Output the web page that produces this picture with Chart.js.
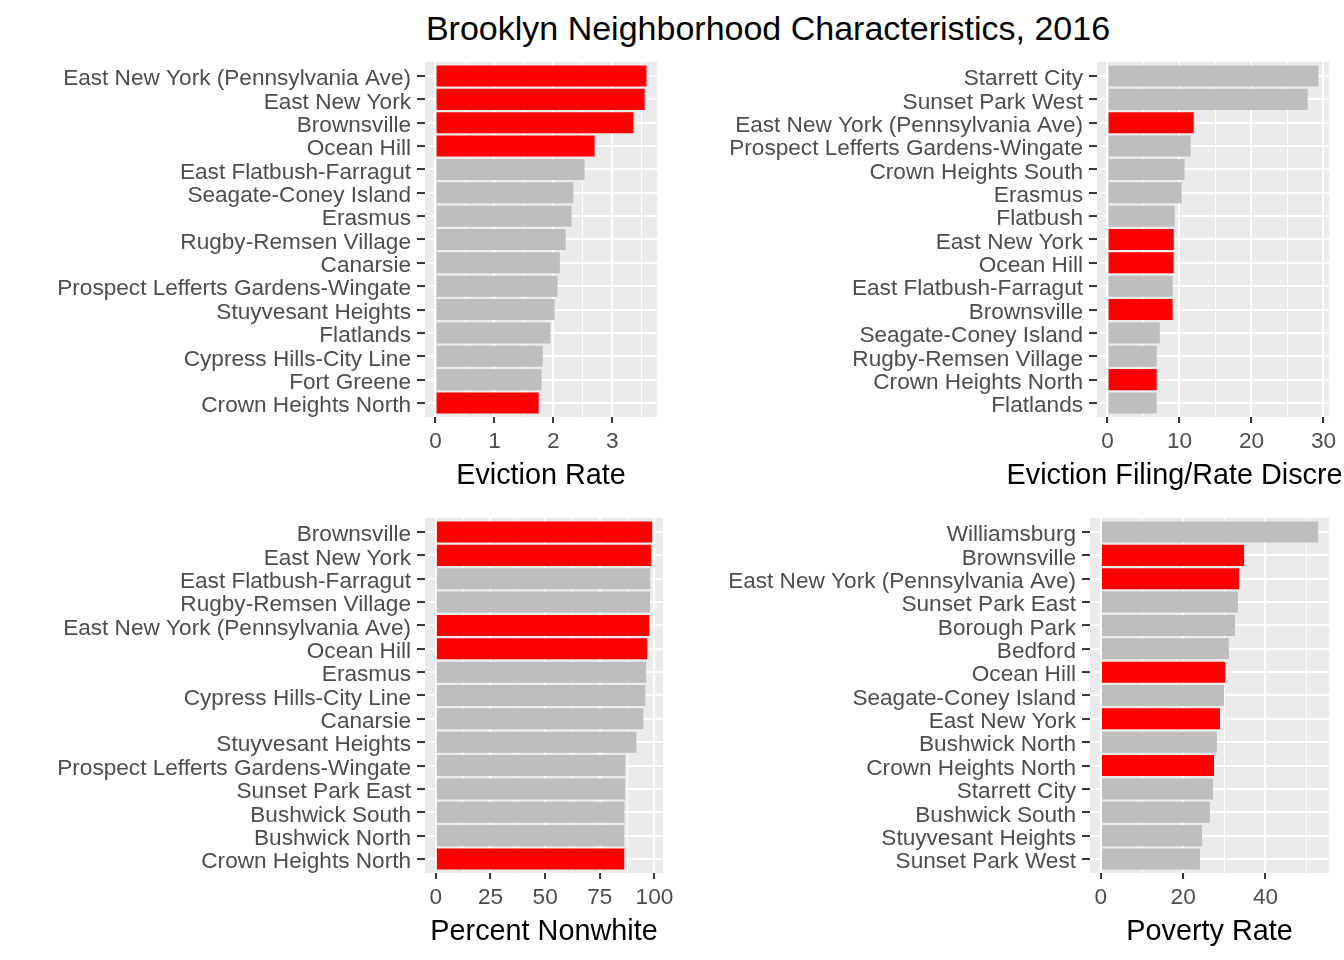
<!DOCTYPE html>
<html><head><meta charset="utf-8">
<script src="https://cdn.jsdelivr.net/npm/chart.js@4.4.0/dist/chart.umd.min.js"></script>
<style>
html,body{margin:0;padding:0;background:#fff;width:1344px;height:960px;overflow:hidden;position:relative;font-family:"Liberation Sans",Arial,sans-serif}
canvas{position:absolute}
#title{position:absolute;top:11px;left:768px;transform:translateX(-50%);font-size:34px;line-height:34px;white-space:nowrap;color:#000}
</style></head><body>
<div id="title">Brooklyn Neighborhood Characteristics, 2016</div>
<canvas id="c1" width="672" height="450" style="left:0;top:50px"></canvas>
<canvas id="c2" width="672" height="450" style="left:672px;top:50px"></canvas>
<canvas id="c3" width="700" height="450" style="left:0;top:506px"></canvas>
<canvas id="c4" width="672" height="450" style="left:672px;top:506px"></canvas>
<script>
// ---- data ----
const highlighted = ["East New York (Pennsylvania Ave)","East New York","Brownsville","Ocean Hill","Crown Heights North"];

const evictionNeighborhoods = ["East New York (Pennsylvania Ave)","East New York","Brownsville","Ocean Hill","East Flatbush-Farragut","Seagate-Coney Island","Erasmus","Rugby-Remsen Village","Canarsie","Prospect Lefferts Gardens-Wingate","Stuyvesant Heights","Flatlands","Cypress Hills-City Line","Fort Greene","Crown Heights North"];
const evictionRate = [3.58,3.55,3.36,2.70,2.53,2.34,2.31,2.21,2.11,2.07,2.02,1.95,1.82,1.80,1.75];
const evictionMajorTicks = [0,1,2,3];
const evictionMinorTicks = [0.5,1.5,2.5,3.5];

const discrepancyNeighborhoods = ["Starrett City","Sunset Park West","East New York (Pennsylvania Ave)","Prospect Lefferts Gardens-Wingate","Crown Heights South","Erasmus","Flatbush","East New York","Ocean Hill","East Flatbush-Farragut","Brownsville","Seagate-Coney Island","Rugby-Remsen Village","Crown Heights North","Flatlands"];
const discrepancy = [29.3,27.8,11.97,11.55,10.7,10.3,9.33,9.2,9.18,9.06,9.04,7.26,6.84,6.83,6.82];
const discrepancyMajorTicks = [0,10,20,30];
const discrepancyMinorTicks = [5,15,25];

const nonwhiteNeighborhoods = ["Brownsville","East New York","East Flatbush-Farragut","Rugby-Remsen Village","East New York (Pennsylvania Ave)","Ocean Hill","Erasmus","Cypress Hills-City Line","Canarsie","Stuyvesant Heights","Prospect Lefferts Gardens-Wingate","Sunset Park East","Bushwick South","Bushwick North","Crown Heights North"];
const percentNonwhite = [98.96,98.5,98.05,98.0,97.6,96.7,96.2,95.8,94.9,91.7,86.7,86.6,86.3,86.2,86.2];
const nonwhiteMajorTicks = [0,25,50,75,100];
const nonwhiteMinorTicks = [12.5,37.5,62.5,87.5];

const povertyNeighborhoods = ["Williamsburg","Brownsville","East New York (Pennsylvania Ave)","Sunset Park East","Borough Park","Bedford","Ocean Hill","Seagate-Coney Island","East New York","Bushwick North","Crown Heights North","Starrett City","Bushwick South","Stuyvesant Heights","Sunset Park West"];
const povertyRate = [52.8,34.8,33.6,33.3,32.6,31.1,30.2,29.9,28.95,28.2,27.5,27.25,26.5,24.6,24.1];
const povertyMajorTicks = [0,20,40];
const povertyMinorTicks = [10,30,50];

const titles = ["Eviction Rate","Eviction Filing/Rate Discrepancy","Percent Nonwhite","Poverty Rate"];

// ---- drawing ----
const FONT = '"Liberation Sans", Arial, sans-serif';
Chart.defaults.font.family = FONT;

const bgPlugin = {
  id: 'panelBg',
  beforeDraw(chart) {
    const {ctx, chartArea: a} = chart;
    ctx.save();
    ctx.fillStyle = '#EBEBEB';
    ctx.fillRect(a.left, a.top, a.right - a.left, a.bottom - a.top);
    ctx.restore();
  }
};
const axisTitlePlugin = {
  id: 'axisTitle',
  afterDraw(chart, args, opts) {
    const {ctx, chartArea: a} = chart;
    ctx.save();
    ctx.font = '28.8px ' + FONT;
    ctx.fillStyle = '#000';
    ctx.textAlign = 'center';
    ctx.textBaseline = 'alphabetic';
    ctx.fillText(opts.text, (a.left + a.right) / 2, a.bottom + 67);
    ctx.restore();
  }
};

function makePanel(id, cats, vals, major, minor, title, yWidth, rightPad) {
  const n = cats.length;
  const mx = Math.max(...vals);
  const allTicks = major.concat(minor).sort((a, b) => a - b);
  const isMajor = v => major.includes(v);
  new Chart(document.getElementById(id), {
    type: 'bar',
    data: {
      datasets: [{
        data: vals.map((v, i) => ({x: v, y: i})),
        backgroundColor: cats.map(c => highlighted.includes(c) ? '#FF0000' : '#BEBEBE'),
        borderWidth: 0,
        barPercentage: 0.9,
        categoryPercentage: 1
      }]
    },
    options: {
      indexAxis: 'y',
      responsive: false,
      animation: false,
      layout: {padding: {top: 12, right: rightPad, bottom: 0, left: 0}},
      plugins: {legend: {display: false}, tooltip: {enabled: false}, axisTitle: {text: title}},
      scales: {
        x: {
          type: 'linear',
          offset: false,
          min: -0.05 * mx,
          max: 1.05 * mx,
          afterBuildTicks: s => { s.ticks = allTicks.map(v => ({value: v})); },
          afterFit: s => { s.height = 83; s.paddingLeft = 0; s.paddingRight = 0; },
          border: {display: false},
          grid: {
            offset: false,
            color: '#FFFFFF',
            lineWidth: c => (c.tick && isMajor(c.tick.value)) ? 2.1 : 1,
            tickColor: c => (c.tick && isMajor(c.tick.value)) ? '#333333' : 'rgba(0,0,0,0)',
            tickLength: 6,
            tickWidth: 2
          },
          ticks: {
            autoSkip: false, maxRotation: 0, padding: 5, color: '#4D4D4D',
            font: {size: 22.6},
            callback: v => isMajor(v) ? String(v) : ''
          }
        },
        y: {
          type: 'linear',
          offset: false,
          reverse: true,
          min: -0.6,
          max: n - 0.4,
          afterBuildTicks: s => { s.ticks = cats.map((c, i) => ({value: i})); },
          afterFit: s => { s.width = yWidth; s.paddingTop = 0; s.paddingBottom = 0; },
          border: {display: false},
          grid: {offset: false, color: '#FFFFFF', lineWidth: 2.1, tickColor: '#333333', tickLength: 8, tickWidth: 2},
          ticks: {
            autoSkip: false, padding: 6, color: '#4D4D4D', labelOffset: 3,
            font: {size: 22.6},
            callback: v => cats[v]
          }
        }
      }
    },
    plugins: [bgPlugin, axisTitlePlugin]
  });
}

makePanel('c1', evictionNeighborhoods, evictionRate, evictionMajorTicks, evictionMinorTicks, titles[0], 425, 15);
makePanel('c2', discrepancyNeighborhoods, discrepancy, discrepancyMajorTicks, discrepancyMinorTicks, titles[1], 425, 15);
makePanel('c3', nonwhiteNeighborhoods, percentNonwhite, nonwhiteMajorTicks, nonwhiteMinorTicks, titles[2], 425, 37);
makePanel('c4', povertyNeighborhoods, povertyRate, povertyMajorTicks, povertyMinorTicks, titles[3], 418, 15);
</script>
</body></html>
